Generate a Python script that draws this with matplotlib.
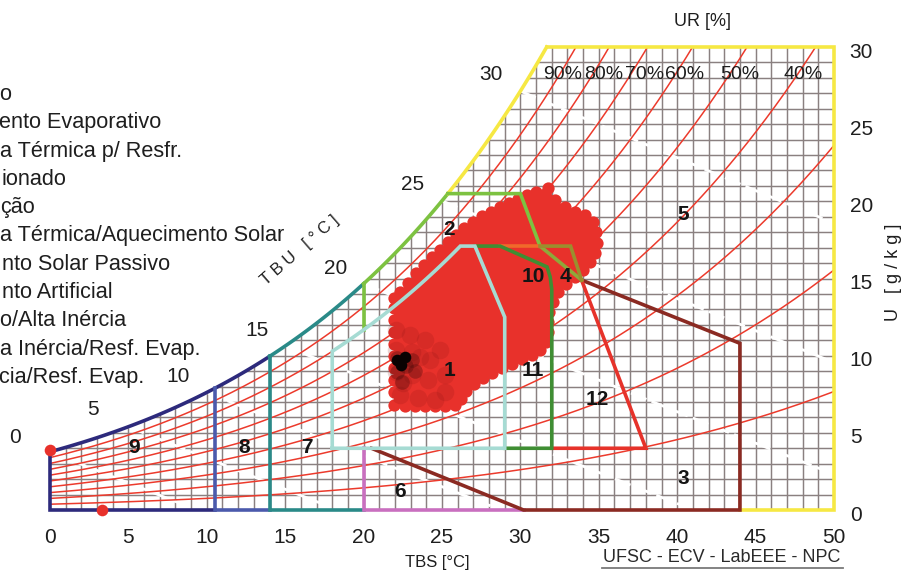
import numpy as np
import matplotlib
matplotlib.use("Agg")
import matplotlib.pyplot as plt
from matplotlib.font_manager import FontProperties

plt.rcParams['font.family'] = ['Liberation Sans', 'DejaVu Sans']

# ---------------- chart data ----------------
tbs_ticks = [0, 5, 10, 15, 20, 25, 30, 35, 40, 45, 50]
u_ticks = [0, 5, 10, 15, 20, 25, 30]
rh_levels = [10, 20, 30, 40, 50, 60, 70, 80, 90]
rh_label_text = ['90%', '80%', '70%', '60%', '50%', '40%']
rh_label_tbs = [32.72, 35.33, 37.95, 40.5, 44.0, 48.02]
rh_label_u = 28.19
tbu_levels = [0, 5, 10, 15, 20, 25, 30]
tbu_label_tbs = [-2.23, 2.74, 8.16, 13.2, 18.24, 23.15, 28.13]
tbu_label_u = [4.73, 6.48, 8.68, 11.6, 15.68, 21.06, 28.19]

zone_ids = ['1', '2', '3', '4', '5', '6', '7', '8', '9', '10', '11', '12']
zone_label_tbs = [25.45, 25.45, 40.37, 32.9, 40.37, 22.32, 16.39, 12.37, 5.36, 30.8, 30.8, 34.89]
zone_label_u = [9.07, 18.15, 2.07, 15.1, 19.12, 1.17, 4.08, 4.08, 4.08, 15.1, 9.07, 7.13]

legend_full = ["Ventilação", "Resfriamento Evaporativo", "Alta Inércia Térmica p/ Resfr.",
               "Ar Condicionado", "Umidificação", "Alta Inércia Térmica/Aquecimento Solar",
               "Aquecimento Solar Passivo", "Aquecimento Artificial", "Ventilação/Alta Inércia",
               "Vent./Alta Inércia/Resf. Evap.", "Alta Inércia/Resf. Evap."]
legend_hidden = ["Ventilaçã", "Resfriam", "Alta Inérci", "Ar Condic", "Umidifica", "Alta Inérci",
                 "Aquecime", "Aquecime", "Ventilaçã", "Vent./Alt", "Alta Inér"]

# zone boundary values (TBS degC, U g/kg)
heat_art_max, heat_sol_max, inertia_heat_max = 10.5, 14.0, 20.0
comfort_t = (18.0, 29.0)
comfort_u_min, comfort_top_u = 4.0, 17.1
comfort_corner = [(27.1, 17.1), (29.0, 12.5)]
vent_top_u = 20.5
vent_right = [(30.0, 20.5), (31.25, 17.1)]
vent_low = [(31.25, 17.1), (33.9, 14.9)]
vai_line = [(27.1, 17.1), (28.7, 17.1), (31.7, 15.75), (31.9, 15.1), (32.0, 14.3), (32.0, 4.0), (29.0, 4.0)]
orange_line = [(28.7, 17.1), (31.25, 17.1)]
olive_line = [(31.25, 17.1), (33.2, 17.1), (33.9, 14.9)]
red_line = [(32.0, 4.0), (38.0, 4.0), (33.9, 14.9)]
brown_line = [(33.9, 14.9), (44.0, 10.8), (44.0, 0.0), (30.2, 0.0), (20.5, 4.0)]
pink_line = [(20.0, 4.0), (20.0, 0.0), (30.2, 0.0)]

# climate data points (dense red cloud outline + shading points)
cluster_tbs = [21.94, 21.94, 21.94, 21.94, 21.94, 21.94, 21.94, 21.94, 21.94, 21.94,
               22.32, 22.83, 23.34, 23.85, 24.36, 24.87, 25.38, 25.89, 26.40, 26.98, 27.55, 28.13,
               28.70, 29.27, 29.85, 30.42, 31.00, 31.57, 31.76,
               32.21, 32.85, 33.48, 34.12, 34.63, 34.82, 34.89, 34.76, 34.44, 34.00, 33.48, 32.91,
               32.40, 32.08, 31.83, 31.76, 31.76, 31.63, 31.25, 30.74, 30.10, 29.47, 28.83, 28.19,
               27.62, 27.04, 26.53, 26.21, 25.83, 25.19, 24.56, 23.92, 23.28, 22.64]
cluster_u = [6.80, 7.65, 8.43, 9.20, 9.98, 10.76, 11.54, 12.31, 13.09, 13.74,
             14.13, 14.71, 15.36, 15.88, 16.40, 16.85, 17.37, 17.82, 18.28, 18.67, 19.05, 19.31,
             19.64, 19.90, 20.16, 20.42, 20.61, 20.48, 20.87,
             20.09, 19.64, 19.31, 19.12, 18.67, 18.02, 17.30, 16.66, 16.07, 15.55, 15.10, 14.65,
             14.13, 13.48, 12.83, 12.18, 11.54, 10.89, 10.37, 10.05, 9.79, 9.46, 9.20, 8.88,
             8.55, 8.17, 7.71, 7.19, 6.80, 6.74, 6.74, 6.74, 6.74, 6.74]
shade_tbs = [22.07, 22.96, 23.92, 24.87, 22.07, 23.09, 24.23, 25.19, 22.07, 23.09, 24.11, 25.19, 22.32, 23.47,
             24.55, 22.6, 23.6, 22.5]
shade_u = [11.67, 11.34, 11.02, 10.37, 10.37, 10.24, 9.72, 8.75, 8.94, 8.75, 8.43, 7.65, 7.45, 7.26, 7.13,
           9.5, 9.9, 8.2]
dark_tbs = [22.13, 22.70, 22.13, 23.09, 22.45, 23.3]
dark_u = [9.85, 9.33, 8.94, 9.72, 8.30, 9.0]
black_tbs = [22.10, 22.36, 22.62]
black_u = [9.72, 9.38, 9.90]
extra_tbs = [0.0, 3.3]
extra_u = [3.9, 0.0]

# ---------------- colours ----------------
C_GRID = '#8a8080'
C_RH = '#ec3a2c'
C_RED = '#e8312b'
C_CYAN = '#a6dbd3'
C_LIME = '#7dc241'
C_DKGREEN = '#3f8e33'
C_ORANGE = '#f06a2a'
C_OLIVE = '#9a8f2e'
C_OLIVEGREEN = '#8ea83a'
C_ZRED = '#e6322a'
C_BROWN = '#8b2a22'
C_PINK = '#c96fbf'
C_TEAL = '#2a8a88'
C_BLUE = '#4b5aac'
C_NAVY = '#2d2a7c'
C_YELLOW = '#f6e843'
C_TXT = '#1e1e1e'

# ---------------- psychrometrics ----------------
P_ATM = 101.325


def psat(t):
    return 0.61094 * np.exp(17.625 * t / (t + 243.04))


def w_rh(t, rh):
    pv = rh / 100.0 * psat(np.asarray(t, dtype=float))
    return 622.0 * pv / (P_ATM - pv)


def w_wb(t, twb):
    ws = w_rh(twb, 100) / 1000.0
    return 1000.0 * ((2501 - 2.326 * twb) * ws - 1.006 * (t - twb)) / (2501 + 1.86 * t - 4.186 * twb)


T_FINE = np.linspace(-1, 52, 5301)


def t_at_w(w, rh=100):
    return float(np.interp(w, w_rh(T_FINE, rh), T_FINE))


# ---------------- figure ----------------
FW, FH = 906, 577
fig = plt.figure(figsize=(FW / 100, FH / 100), dpi=100)
fig.patch.set_facecolor('white')
X0, X1, Y0, Y1 = 50, 834, 510, 47
ax = fig.add_axes([X0 / FW, 1 - Y0 / FH, (X1 - X0) / FW, (Y0 - Y1) / FH])
ax.set_xlim(0, 50)
ax.set_ylim(0, 30)
ax.axis('off')


def fxy(x, y):
    return x / FW, 1 - y / FH


# grid
for t in range(1, 50):
    ax.plot([t, t], [0, min(float(w_rh(t, 100)), 30)], color=C_GRID, lw=1.05, zorder=1)
for w in range(1, 30):
    ax.plot([t_at_w(w), 50], [w, w], color=C_GRID, lw=1.05, zorder=1)

# wet bulb lines (white dashed)
for twb in tbu_levels:
    tt = np.linspace(twb, 50, 400)
    ww = w_wb(tt, twb)
    ax.plot(tt, ww, color='white', lw=2.0, dashes=(6, 2), zorder=2)

# relative humidity curves
tt = np.linspace(0, 50, 600)
for rh in rh_levels:
    ax.plot(tt, w_rh(tt, rh), color=C_RH, lw=1.1, zorder=3)

# data cloud
cx = cluster_tbs + [cluster_tbs[0]]
cy = cluster_u + [cluster_u[0]]
ax.fill(cx, cy, color=C_RED, lw=0, zorder=4)
ax.scatter(cluster_tbs, cluster_u, s=78, color=C_RED, lw=0, zorder=4)
ax.scatter(shade_tbs, shade_u, s=160, color='#8a1414', alpha=0.18, lw=0, zorder=4)
ax.scatter(dark_tbs, dark_u, s=110, color='#4a0a0a', alpha=0.35, lw=0, zorder=4)
ax.scatter(black_tbs, black_u, s=70, color='#0a0202', lw=0, zorder=4)
ax.scatter(extra_tbs, extra_u, s=70, color=C_RED, lw=0, zorder=7, clip_on=False)

LW = 2.6


def seg(pts, color, z=5):
    xs = [p[0] for p in pts]
    ys = [p[1] for p in pts]
    ax.plot(xs, ys, color=color, lw=LW, zorder=z, clip_on=False, solid_joinstyle='miter',
            solid_capstyle='projecting')


def sat_seg(t0, t1, color):
    t = np.linspace(t0, t1, 120)
    seg(list(zip(t, w_rh(t, 100))), color)


t_sat_vent = t_at_w(vent_top_u)
t_sat_top = t_at_w(30)

# saturation curve by zone
sat_seg(0, heat_sol_max, C_NAVY)
sat_seg(heat_sol_max, inertia_heat_max, C_TEAL)
sat_seg(inertia_heat_max, t_sat_vent, C_LIME)
sat_seg(t_sat_vent, t_sat_top, C_YELLOW)

# outer frame
seg([(t_sat_top, 30), (50, 30), (50, 0), (44, 0)], C_YELLOW)
seg([(0, float(w_rh(0, 100))), (0, 0), (heat_art_max, 0)], C_NAVY)
seg([(heat_art_max, float(w_rh(heat_art_max, 100))), (heat_art_max, 0), (heat_sol_max, 0)], C_BLUE)
seg([(heat_sol_max, float(w_rh(heat_sol_max, 100))), (heat_sol_max, 0), (inertia_heat_max, 0)], C_TEAL)
seg(pink_line, C_PINK)
seg(brown_line, C_BROWN)
seg(red_line, C_ZRED)

# ventilation zone (2)
seg([(inertia_heat_max, float(w_rh(inertia_heat_max, 80))),
     (inertia_heat_max, float(w_rh(inertia_heat_max, 100)))], C_LIME)
seg([(t_sat_vent, vent_top_u)] + vent_right, C_LIME)
seg(vent_low, C_OLIVEGREEN)
seg(orange_line, C_ORANGE)
seg(olive_line, C_OLIVE)
seg(vai_line, C_DKGREEN)

# comfort zone (1)
t80_top = t_at_w(comfort_top_u, 80)
tc = np.linspace(comfort_t[0], t80_top, 80)
comfort = [(comfort_t[0], comfort_u_min)] + list(zip(tc, w_rh(tc, 80))) + \
    comfort_corner + [(comfort_t[1], comfort_u_min), (comfort_t[0], comfort_u_min)]
seg(comfort, C_CYAN, z=6)

# zone numbers
for zid, zt, zu in zip(zone_ids, zone_label_tbs, zone_label_u):
    ax.text(zt, zu, zid, fontsize=15, fontweight='bold', color='#141414', ha='center', va='center', zorder=8)

# RH labels
for lab, t in zip(rh_label_text, rh_label_tbs):
    ax.text(t, rh_label_u, lab, fontsize=14, color=C_TXT, ha='center', va='center', zorder=8)

# TBU labels
for lvl, t, u in zip(tbu_levels, tbu_label_tbs, tbu_label_u):
    ax.text(t, u, str(lvl), fontsize=15, color=C_TXT, ha='center', va='center', clip_on=False, zorder=8)

# tick labels
for t in tbs_ticks:
    ax.text(t, -1.75, str(t), fontsize=15, color=C_TXT, ha='center', va='center', clip_on=False)
for u in u_ticks:
    ax.text(51.0, u - 0.33, str(u), fontsize=15, color=C_TXT, ha='left', va='center', clip_on=False)

# axis titles
fig.text(*fxy(437, 563), "TBS [°C]", fontsize=12, color=C_TXT, ha='center', va='center')
fig.text(*fxy(703, 22), "UR [%]", fontsize=13, color=C_TXT, ha='center', va='center')
fig.text(*fxy(893, 272), "U   [ g / k g ]", fontsize=13, color=C_TXT, ha='center', va='center', rotation=90)
fig.text(*fxy(300, 250), "T B U   [ ° C ]", fontsize=12, color=C_TXT, ha='center', va='center', rotation=41)
fig.text(*fxy(722, 558), "UFSC - ECV - LabEEE - NPC", fontsize=13, color='#2a2a2a', ha='center', va='center')
fig.add_artist(plt.Line2D([602 / FW, 843 / FW], [1 - 568 / FH, 1 - 568 / FH], color='#7a7a7a', lw=1.3,
                          transform=fig.transFigure))

# legend (its left part lies outside the picture, as in the reference):
# the hidden start of each label ends left of the edge, the rest starts at the edge
LEG_FS = 15.6
leg_prop = FontProperties(family=['Liberation Sans', 'DejaVu Sans'], size=LEG_FS)
vis_x = [-1, -1, 0.5, 1.5, 0, 0.5, 1.5, 1.5, 0, 0.5, -1]
for i, (full, hid, vx) in enumerate(zip(legend_full, legend_hidden, vis_x)):
    base = 1 - (100 + 28.3 * i) / FH
    fig.text(min(vx, 0) / FW - 0.001, base, hid, fontproperties=leg_prop, color=C_TXT,
             ha='right', va='baseline')
    fig.text(vx / FW, base, full[len(hid):], fontproperties=leg_prop, color=C_TXT,
             ha='left', va='baseline')

fig.savefig('out.png', dpi=100, facecolor='white')
